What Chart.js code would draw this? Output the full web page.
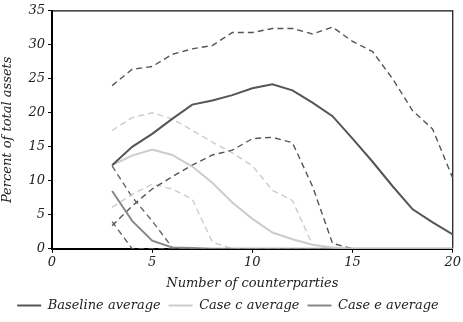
<!DOCTYPE html>
<html>
<head>
<meta charset="utf-8">
<script src="https://cdn.jsdelivr.net/npm/chart.js@4/dist/chart.umd.min.js"></script>
<style>
  html, body { margin: 0; padding: 0; background: #fff; }
  #wrap { width: 463px; height: 322px; }
</style>
</head>
<body>
<div id="wrap"><canvas id="chart" width="463" height="322"></canvas></div>
<script>
// Nombre de contreparties (axe x)
const counterparties = [3, 4, 5, 6, 7, 8, 9, 10, 11, 12, 13, 14, 15, 16, 17, 18, 19, 20];

// Moyennes
const baselineAvg = [12.3, 15.0, 16.9, 19.1, 21.2, 21.8, 22.6, 23.6, 24.2, 23.3, 21.5, 19.5, 16.2, 12.8, 9.2, 5.8, 3.9, 2.1];
const caseCAvg    = [12.3, 13.7, 14.6, 13.8, 12.1, 9.7, 6.8, 4.4, 2.4, 1.4, 0.6, 0.2, 0, 0, 0, 0, 0, 0];
const caseEAvg    = [8.5, 4.1, 1.2, 0.2, 0.1, 0, 0, 0, 0, 0, 0, 0, 0, 0, 0, 0, 0, 0];

// Bornes (pointillés)
const baselineUpper = [24.0, 26.4, 26.8, 28.6, 29.4, 29.9, 31.8, 31.8, 32.4, 32.4, 31.6, 32.6, 30.5, 29.0, 25.0, 20.3, 17.6, 10.4];
const baselineLower = [3.4, 6.3, 8.8, 10.6, 12.3, 13.8, 14.5, 16.2, 16.4, 15.6, 9.2, 0.8, 0, 0, 0, 0, 0, 0];
const caseCUpper    = [17.4, 19.3, 20.0, 19.1, 17.4, 15.7, 14.1, 12.2, 8.6, 7.1, 0.6, 0, 0, 0, 0, 0, 0, 0];
const caseCLower    = [6.1, 8.0, 9.5, 8.8, 7.3, 1.0, 0, 0, 0, 0, 0, 0, 0, 0, 0, 0, 0, 0];
const caseEUpper    = [12.2, 7.6, 4.1, 0.2, 0, 0, 0, 0, 0, 0, 0, 0, 0, 0, 0, 0, 0, 0];
const caseELower    = [4.0, 0, 0, 0, 0, 0, 0, 0, 0, 0, 0, 0, 0, 0, 0, 0, 0, 0];

const xTicks = [0, 5, 10, 15, 20];
const yTicks = [0, 5, 10, 15, 20, 25, 30, 35];

const toPoints = values => values.map((v, i) => ({ x: counterparties[i], y: v }));

function solid(label, values, color) {
    return {
        label, data: toPoints(values), borderColor: color, backgroundColor: color,
        borderWidth: 2, pointRadius: 0, pointStyle: 'line', tension: 0
    };
}

function dashed(label, values, color) {
    return {
        label, data: toPoints(values), borderColor: color, backgroundColor: color,
        borderWidth: 1.4, borderDash: [6, 4], pointRadius: 0, tension: 0
    };
}

// Cadre haut + droite
const framePlugin = {
    id: 'frame',
    beforeDatasetsDraw(chart) {
        const { ctx, chartArea: a } = chart;
        ctx.save();
        ctx.strokeStyle = '#111';
        ctx.lineWidth = 1.2;
        ctx.beginPath();
        ctx.moveTo(a.left, a.top);
        ctx.lineTo(a.right, a.top);
        ctx.lineTo(a.right, a.bottom);
        ctx.stroke();
        ctx.restore();
    }
};

Chart.defaults.font.family = "'DejaVu Serif', serif";
Chart.defaults.font.style = 'italic';
Chart.defaults.font.size = 13;
Chart.defaults.color = '#222';

new Chart(document.getElementById('chart'), {
    type: 'line',
    data: {
        datasets: [
            solid('Baseline average', baselineAvg, '#555555'),
            solid('Case c average', caseCAvg, '#cccccc'),
            solid('Case e average', caseEAvg, '#888888'),
            dashed('Baseline upper', baselineUpper, '#555555'),
            dashed('Baseline lower', baselineLower, '#555555'),
            dashed('Case c upper', caseCUpper, '#cccccc'),
            dashed('Case c lower', caseCLower, '#cccccc'),
            dashed('Case e upper', caseEUpper, '#666666'),
            dashed('Case e lower', caseELower, '#666666')
        ]
    },
    options: {
        responsive: false,
        animation: false,
        layout: { padding: { top: 10, right: 7, left: 0, bottom: 0 } },
        plugins: {
            legend: {
                position: 'bottom',
                labels: {
                    usePointStyle: true,
                    pointStyleWidth: 24,
                    padding: 8,
                    color: '#222',
                    filter: item => item.datasetIndex < 3
                }
            },
            tooltip: { enabled: false }
        },
        scales: {
            x: {
                type: 'linear', min: 0, max: 20,
                afterBuildTicks: s => { s.ticks = xTicks.map(v => ({ value: v })); },
                grid: { drawOnChartArea: false, tickLength: 4, color: '#000' },
                border: { color: '#000', width: 2 },
                ticks: { padding: 2, color: '#222', maxRotation: 0 },
                title: { display: true, text: 'Number of counterparties', color: '#222', padding: { top: 3, bottom: 0 } }
            },
            y: {
                min: 0, max: 35,
                afterBuildTicks: s => { s.ticks = yTicks.map(v => ({ value: v })); },
                afterFit: s => { s.width = 52; },
                grid: { drawOnChartArea: false, tickLength: 4, color: '#000' },
                border: { color: '#000', width: 2 },
                ticks: { padding: 3, color: '#222' },
                title: { display: true, text: 'Percent of total assets', color: '#222', padding: 0 }
            }
        }
    },
    plugins: [framePlugin]
});
</script>
</body>
</html>
